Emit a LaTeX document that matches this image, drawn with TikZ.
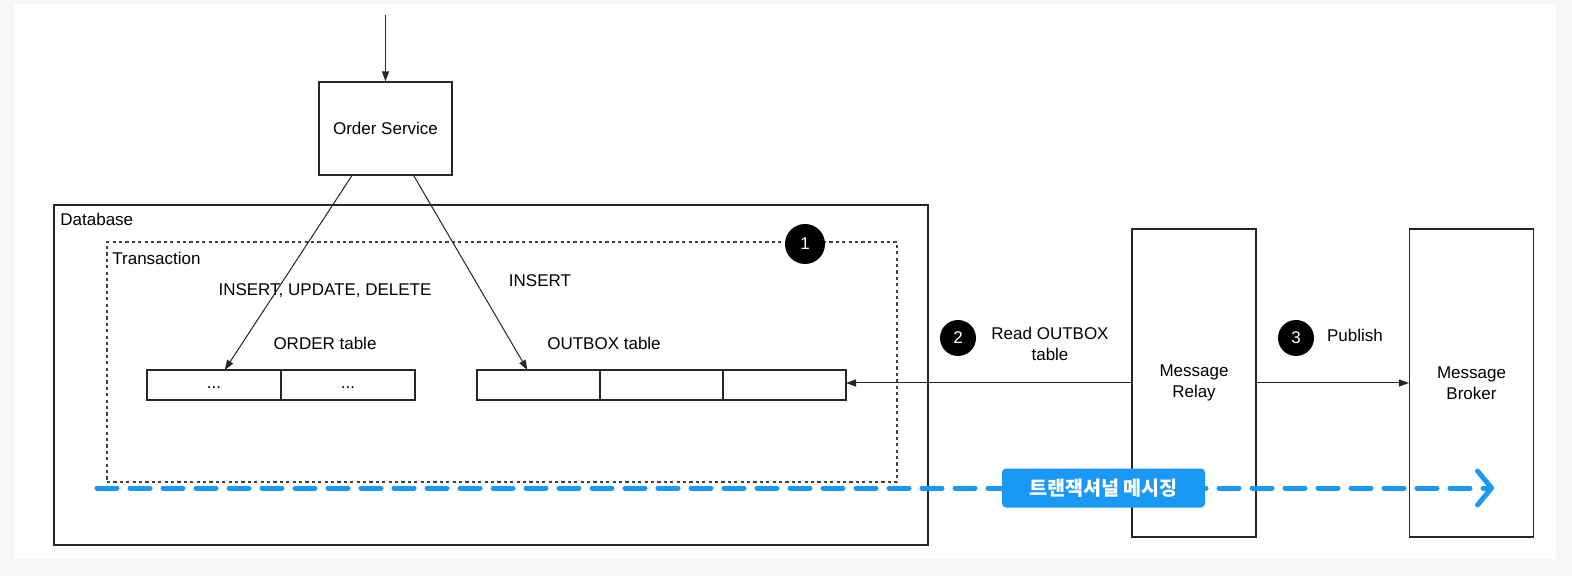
\documentclass[tikz,border=0pt]{standalone}
\usepackage{fontspec}
\setmainfont{Liberation Sans}
\newfontfamily\kofont{Noto Sans CJK KR}
\usetikzlibrary{arrows.meta,positioning,calc}
\definecolor{pagegray}{HTML}{F7F7F7}
\definecolor{msgblue}{HTML}{1A98F5}
\begin{document}
\begin{tikzpicture}[x=0.5pt,y=-0.5pt,
  every node/.style={font=\fontsize{8.5}{10.5}\selectfont},
  svc/.style={draw=black!85,line width=0.6pt,align=center,inner sep=2pt},
  area/.style={draw=black!85,line width=0.6pt,minimum width=437pt,minimum height=170pt},
  txarea/.style={draw=black!75,line width=0.55pt,dash pattern=on 1.6pt off 1.6pt,minimum width=395pt,minimum height=120pt},
  ocell/.style={draw=black!85,line width=0.6pt,outer sep=0pt,minimum width=67pt,minimum height=15pt,text height=6pt,text depth=2pt},
  bcell/.style={draw=black!85,line width=0.6pt,outer sep=0pt,minimum width=61.5pt,minimum height=15pt},
  num/.style={circle,fill=black,text=white,inner sep=0pt,font=\fontsize{8.5}{9}\selectfont},
  lbl/.style={inner sep=1pt,align=center},
  tag/.style={fill=msgblue,rounded corners=2pt,minimum width=101.5pt,minimum height=19.5pt,inner sep=0pt,text=white,font=\kofont\bfseries\fontsize{9.8}{11}\selectfont},
  ar/.style={-{Triangle[length=5pt,width=3.5pt]},line width=0.5pt,black!85},
  msg/.style={-{Straight Barb[length=7pt,width=17pt,round]},line width=2.5pt,msgblue,line cap=round,dash pattern=on 10pt off 6.5pt}]
% page
\fill[pagegray] (0,0) rectangle (1572,576);
\fill[white] (14,4) rectangle (1556,559);
% service and storage
\coordinate (in) at (385.5,15);
\node[svc,minimum width=66.5pt,minimum height=46.5pt] (os) at (385.5,128.5) {Order Service};
\node[area] (db) at (491,375) {};
\node[lbl,anchor=west] (dbl) at (58,219) {Database};
\node[txarea] (tx) at (502,362) {};
\node[lbl,anchor=west] (txl) at (110,258) {Transaction};
\node[num,minimum size=20pt] (n1) at (805,244) {1};
\node[lbl] (l1) at (325,291) {INSERT, UPDATE, DELETE};
\node[lbl] (l2) at (540,281) {INSERT};
\node[lbl] (ot) at (325,343) {ORDER table};
\node[lbl] (bt) at (604,343) {OUTBOX table};
% tables
\node[ocell] (oc1) at (214,385) {...};
\node[ocell,right=0pt of oc1] (oc2) {...};
\node[bcell] (bc1) at (538.5,385) {};
\node[bcell,right=0pt of bc1] (bc2) {};
\node[bcell,right=0pt of bc2] (bc3) {};
% relay and broker
\node[svc,minimum width=62pt,minimum height=154pt] (mr) at (1194,383) {Message\\Relay};
\node[svc,minimum width=62pt,minimum height=154pt] (mb) at (1471.5,383) {Message\\Broker};
\node[num,minimum size=18pt] (n2) at (958,338) {2};
\node[lbl] (l3) at (1050,344) {Read OUTBOX\\table};
\node[num,minimum size=18pt] (n3) at (1296,338) {3};
\node[lbl] (l4) at (1355,335) {Publish};
% connectors
\draw[ar] (in) -- (os.north);
\draw[ar] ($(os.south west)!0.25!(os.south east)$) -- ($(oc1.north west)!0.58!(oc1.north east)$);
\draw[ar] ($(os.south west)!0.71!(os.south east)$) -- ($(bc1.north west)!0.41!(bc1.north east)$);
\draw[ar] (mr.west) -- (mr.west -| bc3.east);
\draw[ar] (mr.east) -- (mb.west);
% transactional messaging
\coordinate (ms) at (97,488);
\coordinate (me) at (1494,488);
\draw[msg] (ms) -- (me);
\node[tag] (tg) at (1103.5,488) {트랜잭셔널 메시징};
\end{tikzpicture}
\end{document}
